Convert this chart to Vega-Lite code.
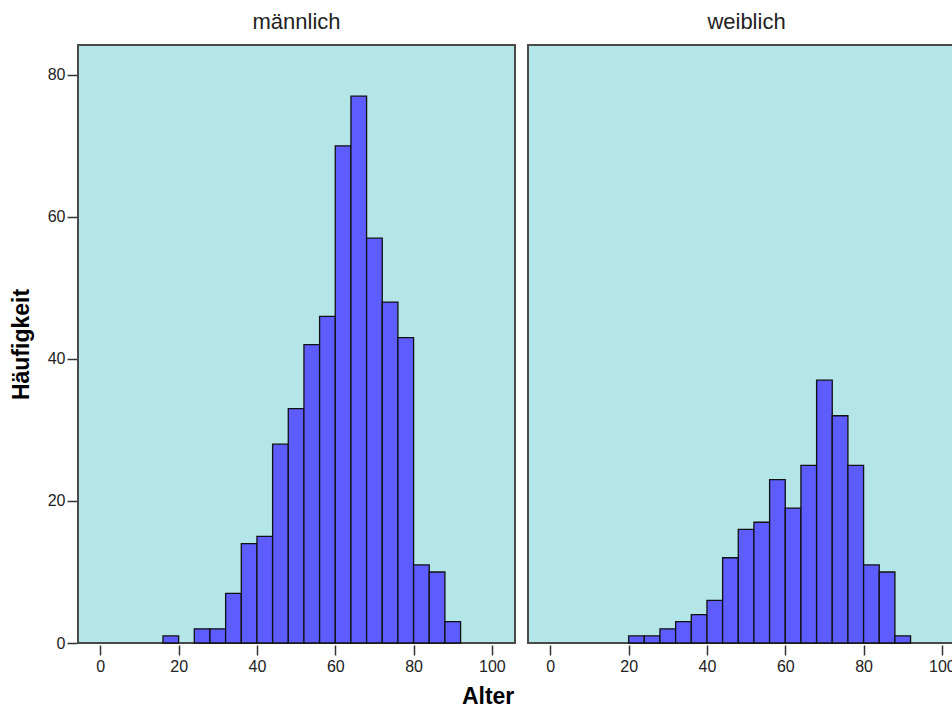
{
  "$schema": "https://vega.github.io/schema/vega-lite/v6.json",
  "padding": {"left": 10, "top": 11, "right": 0, "bottom": 0},
  "background": "white",
  "title": {
    "text": "Alter",
    "orient": "bottom",
    "anchor": "middle",
    "font": "Liberation Sans",
    "fontSize": 23,
    "fontWeight": "bold",
    "color": "black",
    "offset": 12
  },
  "data": {
    "values": [
      {"Geschlecht": "männlich", "von": 16, "bis": 20, "n": 1},
      {"Geschlecht": "männlich", "von": 24, "bis": 28, "n": 2},
      {"Geschlecht": "männlich", "von": 28, "bis": 32, "n": 2},
      {"Geschlecht": "männlich", "von": 32, "bis": 36, "n": 7},
      {"Geschlecht": "männlich", "von": 36, "bis": 40, "n": 14},
      {"Geschlecht": "männlich", "von": 40, "bis": 44, "n": 15},
      {"Geschlecht": "männlich", "von": 44, "bis": 48, "n": 28},
      {"Geschlecht": "männlich", "von": 48, "bis": 52, "n": 33},
      {"Geschlecht": "männlich", "von": 52, "bis": 56, "n": 42},
      {"Geschlecht": "männlich", "von": 56, "bis": 60, "n": 46},
      {"Geschlecht": "männlich", "von": 60, "bis": 64, "n": 70},
      {"Geschlecht": "männlich", "von": 64, "bis": 68, "n": 77},
      {"Geschlecht": "männlich", "von": 68, "bis": 72, "n": 57},
      {"Geschlecht": "männlich", "von": 72, "bis": 76, "n": 48},
      {"Geschlecht": "männlich", "von": 76, "bis": 80, "n": 43},
      {"Geschlecht": "männlich", "von": 80, "bis": 84, "n": 11},
      {"Geschlecht": "männlich", "von": 84, "bis": 88, "n": 10},
      {"Geschlecht": "männlich", "von": 88, "bis": 92, "n": 3},
      {"Geschlecht": "weiblich", "von": 20, "bis": 24, "n": 1},
      {"Geschlecht": "weiblich", "von": 24, "bis": 28, "n": 1},
      {"Geschlecht": "weiblich", "von": 28, "bis": 32, "n": 2},
      {"Geschlecht": "weiblich", "von": 32, "bis": 36, "n": 3},
      {"Geschlecht": "weiblich", "von": 36, "bis": 40, "n": 4},
      {"Geschlecht": "weiblich", "von": 40, "bis": 44, "n": 6},
      {"Geschlecht": "weiblich", "von": 44, "bis": 48, "n": 12},
      {"Geschlecht": "weiblich", "von": 48, "bis": 52, "n": 16},
      {"Geschlecht": "weiblich", "von": 52, "bis": 56, "n": 17},
      {"Geschlecht": "weiblich", "von": 56, "bis": 60, "n": 23},
      {"Geschlecht": "weiblich", "von": 60, "bis": 64, "n": 19},
      {"Geschlecht": "weiblich", "von": 64, "bis": 68, "n": 25},
      {"Geschlecht": "weiblich", "von": 68, "bis": 72, "n": 37},
      {"Geschlecht": "weiblich", "von": 72, "bis": 76, "n": 32},
      {"Geschlecht": "weiblich", "von": 76, "bis": 80, "n": 25},
      {"Geschlecht": "weiblich", "von": 80, "bis": 84, "n": 11},
      {"Geschlecht": "weiblich", "von": 84, "bis": 88, "n": 10},
      {"Geschlecht": "weiblich", "von": 88, "bis": 92, "n": 1}
    ]
  },
  "facet": {
    "column": {
      "field": "Geschlecht",
      "type": "nominal",
      "sort": ["männlich", "weiblich"],
      "header": {
        "title": null,
        "labelFont": "Liberation Sans",
        "labelFontSize": 22,
        "labelColor": "#222",
        "labelPadding": 10
      }
    }
  },
  "spacing": 11,
  "spec": {
    "width": 437,
    "height": 598,
    "mark": {"type": "bar", "fill": "#5c5cff", "stroke": "#111", "strokeWidth": 1.3},
    "encoding": {
      "x": {
        "field": "von",
        "type": "quantitative",
        "scale": {"domain": [-5.7, 105.9], "nice": false, "zero": false},
        "axis": {"title": null, "values": [0, 20, 40, 60, 80, 100]}
      },
      "x2": {"field": "bis"},
      "y": {
        "field": "n",
        "type": "quantitative",
        "scale": {"domain": [0, 84.2], "nice": false},
        "axis": {"title": "Häufigkeit", "values": [0, 20, 40, 60, 80]}
      },
      "y2": {"datum": 0}
    }
  },
  "config": {
    "view": {"fill": "#b4e5e7", "stroke": "#4a4a4a", "strokeWidth": 2},
    "axis": {
      "grid": false,
      "domain": false,
      "tickSize": 10,
      "tickColor": "#333",
      "tickWidth": 1.5,
      "labelFont": "Liberation Sans",
      "labelFontSize": 16,
      "labelColor": "#222",
      "titleFont": "Liberation Sans",
      "titleFontSize": 23,
      "titleFontWeight": "bold",
      "titleColor": "black"
    },
    "axisX": {"labelPadding": 3},
    "axisY": {"labelPadding": 2, "titlePadding": 14}
  }
}
